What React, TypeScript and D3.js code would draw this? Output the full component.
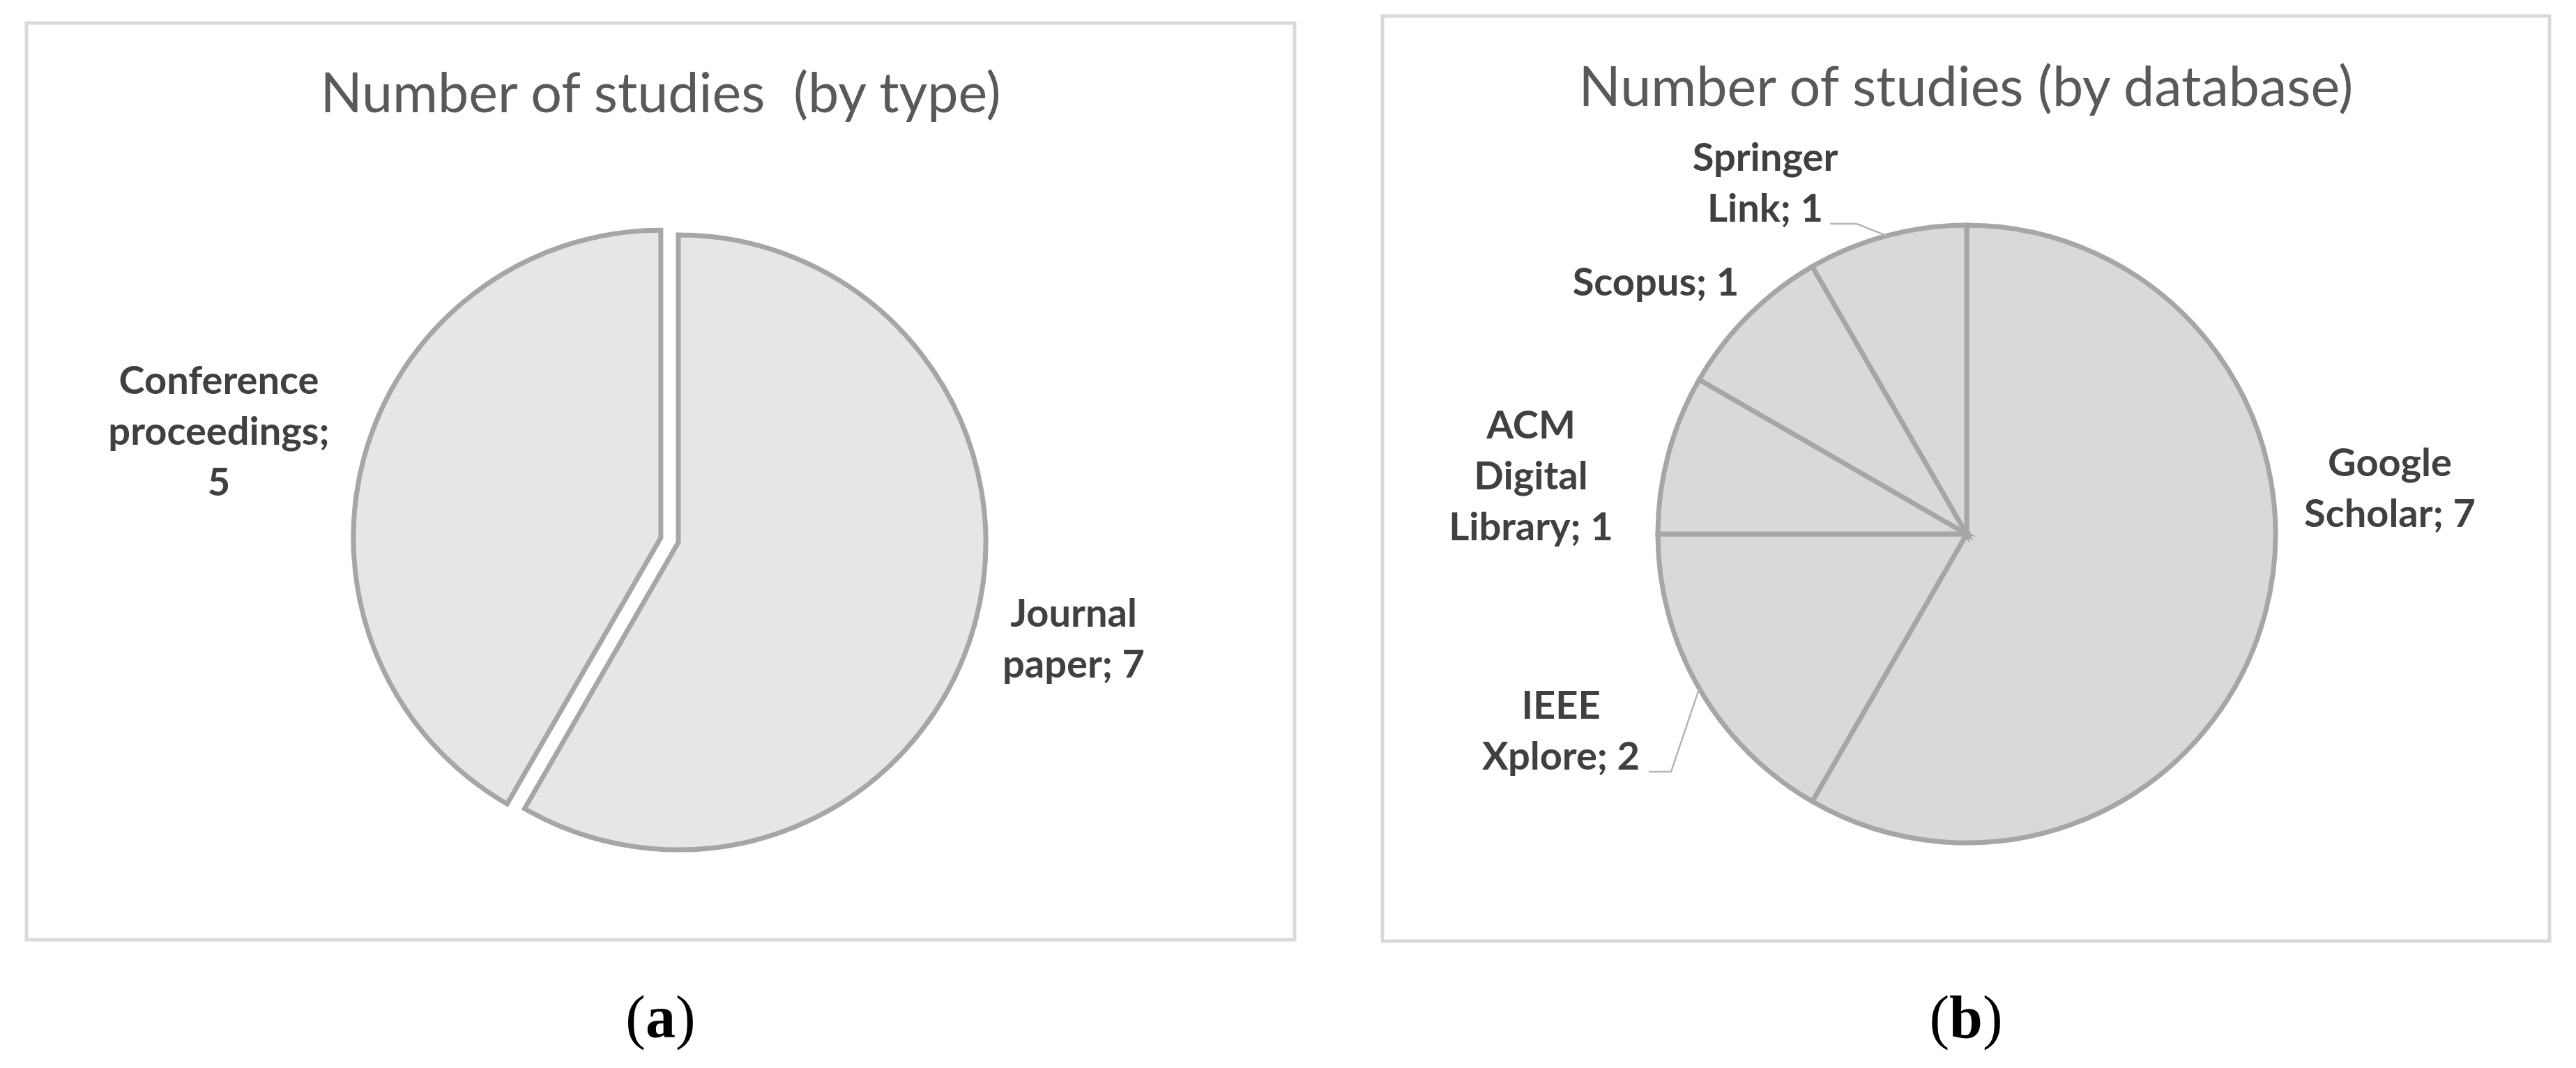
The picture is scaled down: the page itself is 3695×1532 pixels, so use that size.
import React, { useRef, useEffect } from "react";
import * as d3 from "d3";

const W = 3695;
const H = 1532;

// (a) studies by type
const typeCategories = ["Journal\npaper", "Conference\nproceedings"];
const typeValues = [7, 5];

// (b) studies by database
const dbCategories = ["Google\nScholar", "IEEE\nXplore", "ACM\nDigital\nLibrary", "Scopus", "Springer\nLink"];
const dbValues = [7, 2, 1, 1, 1];

const titles = ["Number of studies  (by type)", "Number of studies (by database)"];
const captions = ["a", "b"];

const FONT = "Lato, 'Open Sans', sans-serif";
const LABEL_COLOR = "#404040";
const LINE_H = 73;

// panel boxes, pie placement and label offsets (relative to pie centre)
const panels = [
    {
        box: [38, 33, 1819, 1315], titleY: 161, cx: 973, cy: 778, r: 441, fill: "#e6e6e6",
        categories: typeCategories, values: typeValues,
        sep: ["; ", ";\n"],
        explode: [0, 26],
        labelPos: [[567, 121], [-659, -213]],
        leaders: [null, null],
    },
    {
        box: [1983, 23, 1674, 1327], titleY: 152, cx: 2821, cy: 766, r: 443, fill: "#d9d9d9",
        categories: dbCategories, values: dbValues,
        sep: ["; ", "; ", "; ", "; ", "; "],
        explode: [0, 0, 0, 0, 0],
        labelPos: [[607, -83], [-582, 265], [-625, -137], [-446, -342], [-289, -521]],
        leaders: [null, [[-456, 341], [-424, 341]], null, null, [[-196, -445], [-158, -445]]],
    },
];

const App = () => {
    const svgRef = useRef(null);

    useEffect(() => {
        const svg = d3.select(svgRef.current);
        svg.selectAll("*").remove();

        svg.append("rect").attr("width", W).attr("height", H).attr("fill", "#fff");

        panels.forEach((p, pi) => {
            const [bx, by, bw, bh] = p.box;
            svg.append("rect")
                .attr("x", bx).attr("y", by)
                .attr("width", bw).attr("height", bh)
                .attr("fill", "#fff")
                .attr("stroke", "#d9d9d9")
                .attr("stroke-width", 5);

            svg.append("text")
                .attr("x", bx + bw / 2)
                .attr("y", p.titleY)
                .attr("text-anchor", "middle")
                .style("white-space", "pre")
                .style("font-family", FONT)
                .style("font-size", "79px")
                .style("fill", "#595959")
                .text(titles[pi]);

            const data = p.values.map((v, i) => ({ name: p.categories[i], value: v, i }));
            const pie = d3.pie().value((d) => d.value).sort(null);
            const arcs = pie(data);
            const arc = d3.arc().innerRadius(0).outerRadius(p.r);
            const edge = d3.arc().innerRadius(p.r).outerRadius(p.r);

            const g = svg.append("g").attr("transform", `translate(${p.cx},${p.cy})`);

            g.selectAll("path.slice")
                .data(arcs)
                .enter()
                .append("path")
                .attr("class", "slice")
                .attr("transform", (d) => {
                    const off = p.explode[d.data.i];
                    const a = (d.startAngle + d.endAngle) / 2;
                    return `translate(${off * Math.sin(a)},${-off * Math.cos(a)})`;
                })
                .attr("d", arc)
                .attr("fill", p.fill)
                .attr("stroke", "#a6a6a6")
                .attr("stroke-width", 7)
                .attr("stroke-linejoin", "miter");

            // leader lines
            arcs.forEach((d) => {
                const ld = p.leaders[d.data.i];
                if (!ld) return;
                const end = edge.centroid(d);
                const line = d3.line();
                g.append("path")
                    .attr("d", line([ld[0], ld[1], end]))
                    .attr("fill", "none")
                    .attr("stroke", "#b5b5b5")
                    .attr("stroke-width", 2.5);
            });

            // data labels
            arcs.forEach((d) => {
                const i = d.data.i;
                const lines = (d.data.name + p.sep[i] + d.data.value).split("\n");
                const [lx, ly] = p.labelPos[i];
                const t = g.append("text")
                    .attr("text-anchor", "middle")
                    .style("font-family", FONT)
                    .style("font-weight", 700)
                    .style("font-size", "56px")
                    .style("fill", LABEL_COLOR);
                lines.forEach((ln, k) => {
                    t.append("tspan")
                        .attr("x", lx)
                        .attr("y", ly + k * LINE_H)
                        .text(ln);
                });
            });

            // caption
            const cap = svg.append("text")
                .attr("x", bx + bw / 2)
                .attr("y", 1488)
                .attr("text-anchor", "middle")
                .style("font-family", "'Liberation Serif', 'Times New Roman', serif")
                .style("font-size", "86px")
                .style("fill", "#000");
            cap.append("tspan").text("(");
            cap.append("tspan").style("font-weight", 700).text(captions[pi]);
            cap.append("tspan").text(")");
        });
    }, []);

    return (
        <svg
            ref={svgRef}
            width={W}
            height={H}
            style={{ position: "absolute", left: 0, top: 0, display: "block" }}
        />
    );
};

export default App;
